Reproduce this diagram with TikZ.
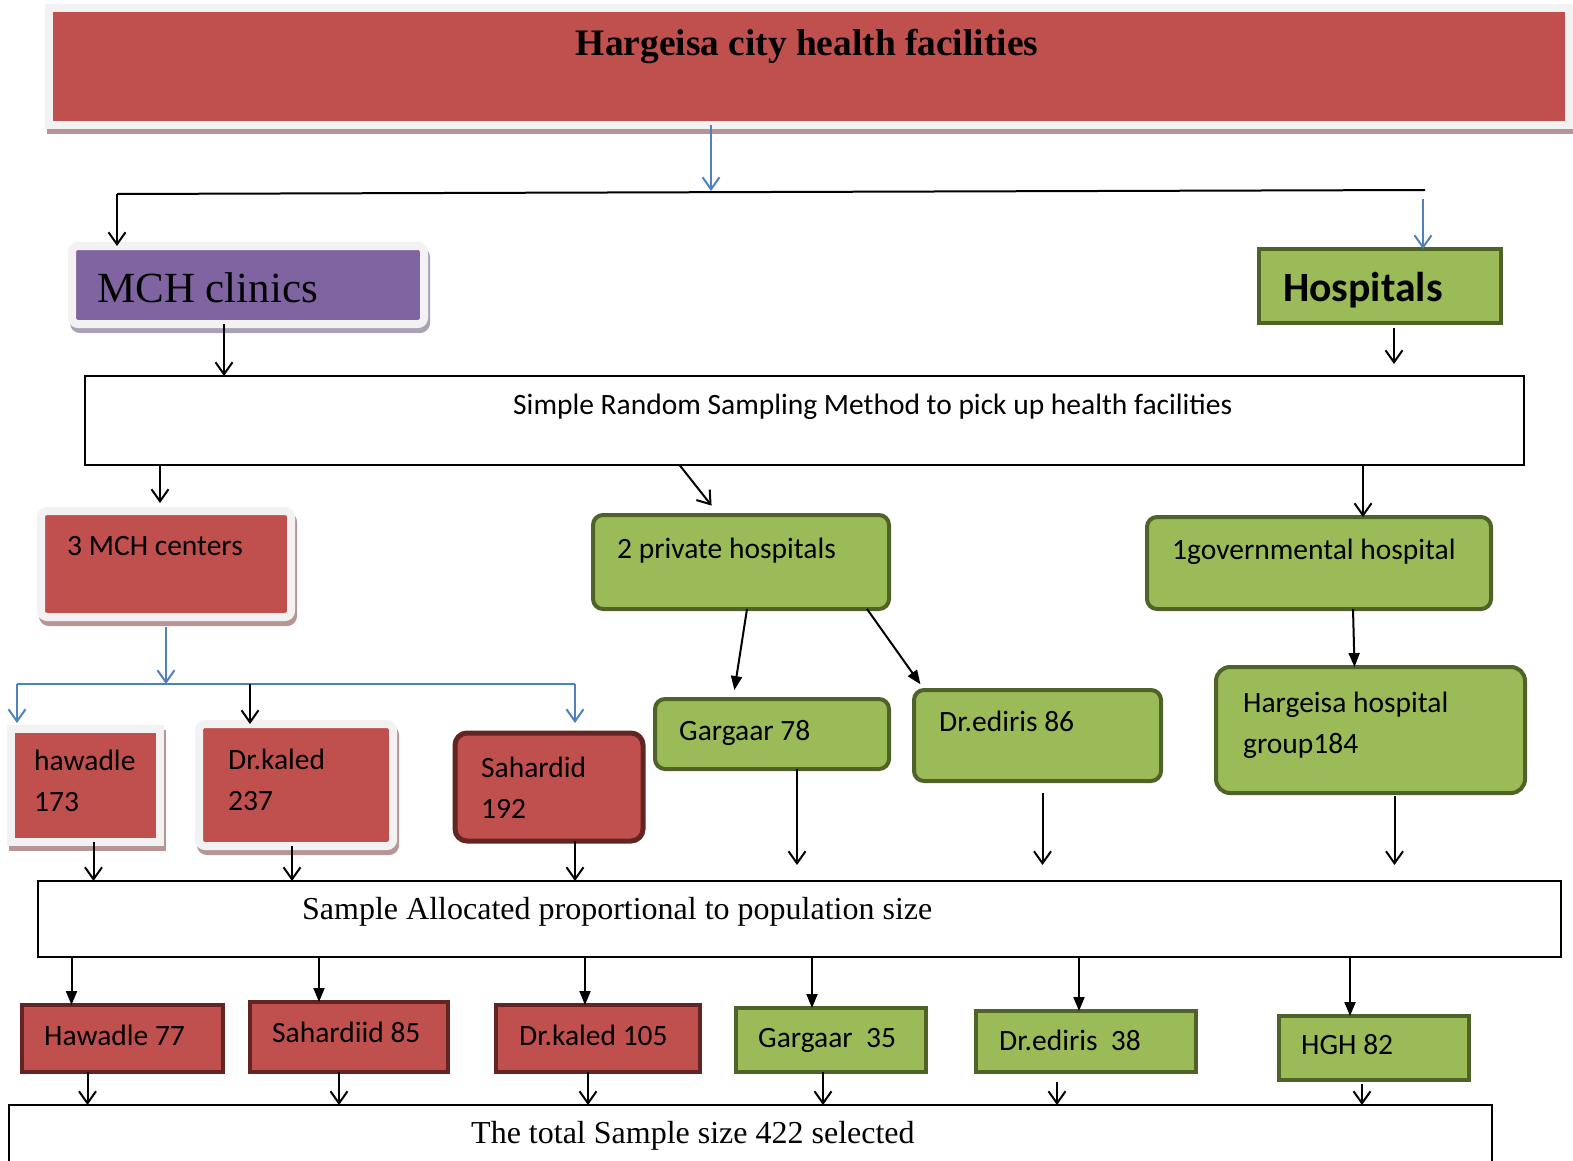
\documentclass[tikz,border=0pt]{standalone}
\usepackage{fontspec}
\setmainfont{Liberation Serif}
\newfontfamily\calfont{Carlito}
\usetikzlibrary{arrows.meta}

\definecolor{hred}{HTML}{C0504D}
\definecolor{hdarkred}{HTML}{632523}
\definecolor{hgreen}{HTML}{9BBB59}
\definecolor{hdarkgreen}{HTML}{4F6228}
\definecolor{hpurple}{HTML}{8064A2}
\definecolor{hblue}{HTML}{4F81BD}
\definecolor{hframe}{HTML}{F2F2F2}
\definecolor{redshadow}{HTML}{B89595}
\definecolor{purpleshadow}{HTML}{A9A2B5}

\tikzset{
	box/.style={anchor=north west, inner sep=0pt, outer sep=0pt},
	boxshadow/.style={preaction={draw=#1, line width=8pt, transform canvas={shift={(2pt,-5pt)}}}},
	framedbox/.style={box, draw=hframe, line width=8pt, fill=#1},
	redbox/.style={box, fill=hred, draw=hdarkred, line width=4pt},
	greenbox/.style={box, fill=hgreen, draw=hdarkgreen, line width=4pt},
	whitebox/.style={box, draw=black, line width=2pt},
	txt/.style={anchor=base west, inner sep=0pt, align=left, font=\calfont\fontsize{29.5}{41}\selectfont},
	stxt/.style={anchor=base west, inner sep=0pt, font=\fontsize{32}{38}\selectfont},
	arr/.style={-{Straight Barb[length=12pt,width=17pt]}, line width=2pt},
	farr/.style={-{Triangle[length=14pt,width=11pt]}, line width=2pt},
	barr/.style={-{Straight Barb[length=12pt,width=17pt]}, draw=hblue, line width=2pt},
}

\begin{document}
\begin{tikzpicture}[x=1pt, y=-1pt]
	\useasboundingbox (0,0) rectangle (1573,1161);
	\node[framedbox=hred, boxshadow=redshadow, minimum width=1520pt, minimum height=117pt] (Top) at (49,8) {};
	\node[stxt, anchor=base, font=\bfseries\fontsize{37.4}{44}\selectfont] (Topt) at (807,56) {Hargeisa city health facilities};
	\coordinate (splitM) at (711,191);
	\coordinate (splitL) at (117,194);
	\coordinate (splitR) at (1425,190);
	\coordinate (hospIn) at (1423,199);
	\node[framedbox=hpurple, boxshadow=purpleshadow, rounded corners=6pt, minimum width=352pt, minimum height=78pt] (MCH) at (72,246) {};
	\node[stxt, font=\fontsize{43}{50}\selectfont] (MCHt) at (97,302) {MCH clinics};
	\node[greenbox, minimum width=242pt, minimum height=74pt] (Hosp) at (1259,249) {};
	\node[txt, font=\calfont\bfseries\fontsize{41.7}{48}\selectfont] (Hospt) at (1283,301) {Hospitals};
	\draw[barr] (Top.south -| splitM) -- (splitM);
	\draw[line width=2pt] (splitL) -- (splitR);
	\draw[arr] (splitL) -- (splitL |- MCH.north);
	\draw[barr] (hospIn) -- (hospIn |- Hosp.north);

	\node[whitebox, minimum width=1439pt, minimum height=89pt] (SRS) at (85,376) {};
	\node[txt] (SRSt) at (513,414) {Simple Random Sampling Method to pick up health facilities};
	\draw[arr] ([xshift=-24pt]MCH.south) -- ([xshift=-24pt]MCH.south |- SRS.north);
	\draw[arr, shorten <=5pt, shorten >=12pt] ([xshift=14pt]Hosp.south) -- ([xshift=14pt]Hosp.south |- SRS.north);

	\node[framedbox=hred, boxshadow=redshadow, rounded corners=6pt, minimum width=250pt, minimum height=106pt] (MCH3) at (41,511) {};
	\node[txt] (MCH3t) at (67,555) {3 MCH centers};
	\node[greenbox, rounded corners=10pt, minimum width=296pt, minimum height=94pt] (Priv) at (593,515) {};
	\node[txt] (Privt) at (617,558) {2 private hospitals};
	\node[greenbox, rounded corners=10pt, minimum width=344pt, minimum height=92pt] (Gov) at (1147,517) {};
	\node[txt] (Govt) at (1172,559) {1governmental hospital};
	\draw[arr, shorten >=8pt] ([xshift=-6pt]MCH3.north |- SRS.south) -- ([xshift=-6pt]MCH3.north);
	\draw[arr, shorten >=12pt] ([xshift=-125pt]SRS.south) -- ([xshift=-22pt]Priv.north);
	\draw[arr] ([xshift=44pt]Gov.north |- SRS.south) -- ([xshift=44pt]Gov.north);

	\node[framedbox=hred, boxshadow=redshadow, minimum width=149pt, minimum height=113pt] (Haw) at (11,729) {};
	\node[txt] (Hawt) at (34,811) {hawadle\\173};
	\node[framedbox=hred, boxshadow=redshadow, rounded corners=6pt, minimum width=194pt, minimum height=122pt] (DrK) at (199,724) {};
	\node[txt] (DrKt) at (228,810) {Dr.kaled\\237};
	\node[redbox, rounded corners=12pt, line width=5pt, minimum width=188pt, minimum height=108pt] (Sah) at (455,733) {};
	\node[txt] (Saht) at (481,818) {Sahardid\\192};
	\node[greenbox, rounded corners=10pt, minimum width=234pt, minimum height=70pt] (Garg) at (655,699) {};
	\node[txt] (Gargt) at (679,740) {Gargaar 78};
	\node[greenbox, rounded corners=10pt, minimum width=247pt, minimum height=91pt] (Edi) at (914,690) {};
	\node[txt] (Edit) at (939,731) {Dr.ediris 86};
	\node[greenbox, rounded corners=14pt, minimum width=309pt, minimum height=126pt] (HH) at (1216,667) {};
	\node[txt] (HHt) at (1243,753) {Hargeisa hospital\\group184};

	\coordinate (brM) at (166,684);
	\coordinate (brL) at (17,684);
	\coordinate (brK) at (250,684);
	\coordinate (brR) at (575,684);
	\draw[barr, shorten <=10pt] (MCH3.south) -- (brM);
	\draw[draw=hblue, line width=2pt] (brL) -- (brR);
	\draw[barr, shorten >=6pt] (brL) -- (brL |- Haw.north);
	\draw[arr] (brK) -- (brK |- DrK.north);
	\draw[barr, shorten >=10pt] (brR) -- (brR |- Sah.north);
	\draw[farr, shorten >=9pt] ([xshift=6pt]Priv.south) -- ([xshift=-39pt]Garg.north);
	\draw[farr, shorten >=7pt] ([xshift=126pt]Priv.south) -- ([xshift=-113pt]Edi.north);
	\draw[farr] ([xshift=34pt]Gov.south) -- ([xshift=-16pt]HH.north);

	\node[whitebox, minimum width=1523pt, minimum height=76pt] (Alloc) at (38,881) {};
	\node[stxt] (Alloct) at (302,919) {Sample Allocated proportional to population size};
	\draw[arr] ([xshift=8pt]Haw.south) -- ([xshift=8pt]Haw.south |- Alloc.north);
	\draw[arr] ([xshift=-4pt]DrK.south) -- ([xshift=-4pt]DrK.south |- Alloc.north);
	\draw[arr] ([xshift=26pt]Sah.south) -- ([xshift=26pt]Sah.south |- Alloc.north);
	\draw[arr, shorten >=16pt] ([xshift=25pt]Garg.south) -- ([xshift=25pt]Garg.south |- Alloc.north);
	\draw[arr, shorten <=12pt, shorten >=16pt] ([xshift=5pt]Edi.south) -- ([xshift=5pt]Edi.south |- Alloc.north);
	\draw[arr, shorten <=3pt, shorten >=16pt] ([xshift=24pt]HH.south) -- ([xshift=24pt]HH.south |- Alloc.north);

	\node[redbox, minimum width=201pt, minimum height=67pt] (H77) at (22,1005) {};
	\node[txt] (H77t) at (44,1045) {Hawadle 77};
	\node[redbox, minimum width=198pt, minimum height=70pt] (S85) at (250,1002) {};
	\node[txt] (S85t) at (272,1042) {Sahardiid 85};
	\node[redbox, minimum width=204pt, minimum height=67pt] (K105) at (496,1005) {};
	\node[txt] (K105t) at (519,1045) {Dr.kaled 105};
	\node[greenbox, minimum width=190pt, minimum height=64pt] (G35) at (736,1008) {};
	\node[txt] (G35t) at (758,1047) {Gargaar\ \ 35};
	\node[greenbox, minimum width=220pt, minimum height=61pt] (E38) at (976,1011) {};
	\node[txt] (E38t) at (999,1050) {Dr.ediris\ \ 38};
	\node[greenbox, minimum width=190pt, minimum height=64pt] (HGH) at (1279,1016) {};
	\node[txt] (HGHt) at (1301,1054) {HGH 82};
	\draw[farr] ([xshift=-51pt]H77.north |- Alloc.south) -- ([xshift=-51pt]H77.north);
	\draw[farr] ([xshift=-30pt]S85.north |- Alloc.south) -- ([xshift=-30pt]S85.north);
	\draw[farr] ([xshift=-13pt]K105.north |- Alloc.south) -- ([xshift=-13pt]K105.north);
	\draw[farr] ([xshift=-19pt]G35.north |- Alloc.south) -- ([xshift=-19pt]G35.north);
	\draw[farr] ([xshift=-7pt]E38.north |- Alloc.south) -- ([xshift=-7pt]E38.north);
	\draw[farr] ([xshift=-24pt]HGH.north |- Alloc.south) -- ([xshift=-24pt]HGH.north);

	\node[whitebox, minimum width=1483pt, minimum height=90pt] (Total) at (9,1105) {};
	\node[stxt] (Totalt) at (471,1143) {The total Sample size 422 selected};
	\draw[arr] ([xshift=-35pt]H77.south) -- ([xshift=-35pt]H77.south |- Total.north);
	\draw[arr] ([xshift=-10pt]S85.south) -- ([xshift=-10pt]S85.south |- Total.north);
	\draw[arr] ([xshift=-10pt]K105.south) -- ([xshift=-10pt]K105.south |- Total.north);
	\draw[arr] ([xshift=-8pt]G35.south) -- ([xshift=-8pt]G35.south |- Total.north);
	\draw[arr, shorten <=10pt] ([xshift=-29pt]E38.south) -- ([xshift=-29pt]E38.south |- Total.north);
	\draw[arr, shorten <=4pt] ([xshift=-12pt]HGH.south) -- ([xshift=-12pt]HGH.south |- Total.north);
\end{tikzpicture}
\end{document}
